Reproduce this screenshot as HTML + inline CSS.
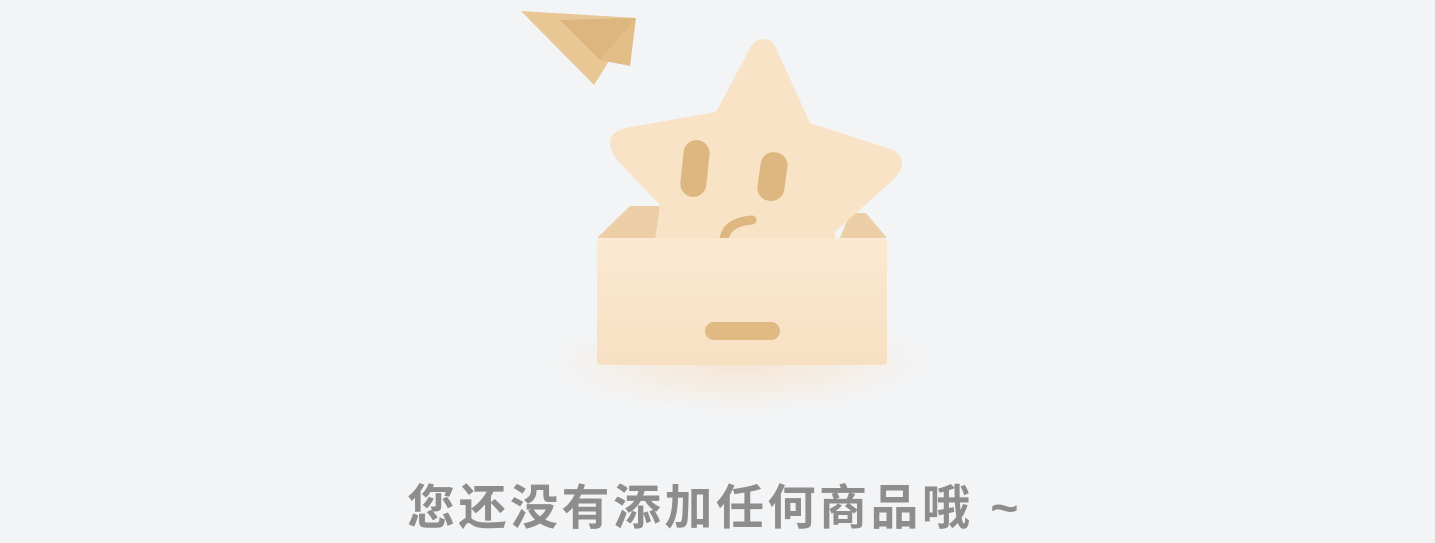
<!DOCTYPE html>
<html><head><meta charset="utf-8"><style>
html,body{margin:0;padding:0;width:1435px;height:543px;overflow:hidden;background:#f3f4f6;}
#art{position:absolute;left:0;top:0;}
#msg{position:absolute;left:407px;top:479px;font:bold 48px/60px "Liberation Sans","Noto Sans CJK SC",sans-serif;color:#8d8d8d;letter-spacing:3.5px;white-space:nowrap;}
</style></head><body>
<svg id="art" width="1435" height="543">
<defs>
<linearGradient id="bx" x1="0" y1="0" x2="0" y2="1"><stop offset="0" stop-color="#fbe9d2"/><stop offset="1" stop-color="#f7e0c2"/></linearGradient>
<radialGradient id="sh" cx="0.5" cy="0.5" r="0.5"><stop offset="0" stop-color="#f6e6d2"/><stop offset="1" stop-color="#f3f4f6"/></radialGradient>
</defs>
<ellipse cx="740" cy="362" rx="190" ry="50" fill="url(#sh)"/>
<g>
<polygon points="521,11 636,18 594,85" fill="#e9c794"/>
<polygon points="560,20 636,18 600,60" fill="#dcb57f"/>
<polygon points="600,60 636,18 630,66" fill="#e3bd88"/>
</g>
<polygon points="597,238 630,206 660,206 660,238" fill="#eccfa6"/>
<polygon points="840,238 850,213 866,213 887,238" fill="#eccfa6"/>
<path d="M760,40 Q770,36 776,48 L810,123 L893,150 Q910,160 895,178 L835,232 L835,240 L655,240 L660,205 L617,160 Q600,135 625,128 L716,112 L750,48 Q755,40 760,40 Z" fill="#f8e3c6"/>
<rect x="682" y="140" width="26" height="57" rx="13" fill="#ddb77f" transform="rotate(6 695 168)"/>
<rect x="759" y="152" width="27" height="49" rx="13" fill="#ddb77f" transform="rotate(8 772 176)"/>
<path d="M724,240 Q726,222 752,220" stroke="#ddb77f" stroke-width="9" fill="none" stroke-linecap="round"/>
<rect x="597" y="238" width="290" height="127" rx="4" fill="url(#bx)"/>
<rect x="705" y="322" width="75" height="18" rx="9" fill="#e0b983"/>
</svg>
<div id="msg">您还没有添加任何商品哦 ~</div>
</body></html>
